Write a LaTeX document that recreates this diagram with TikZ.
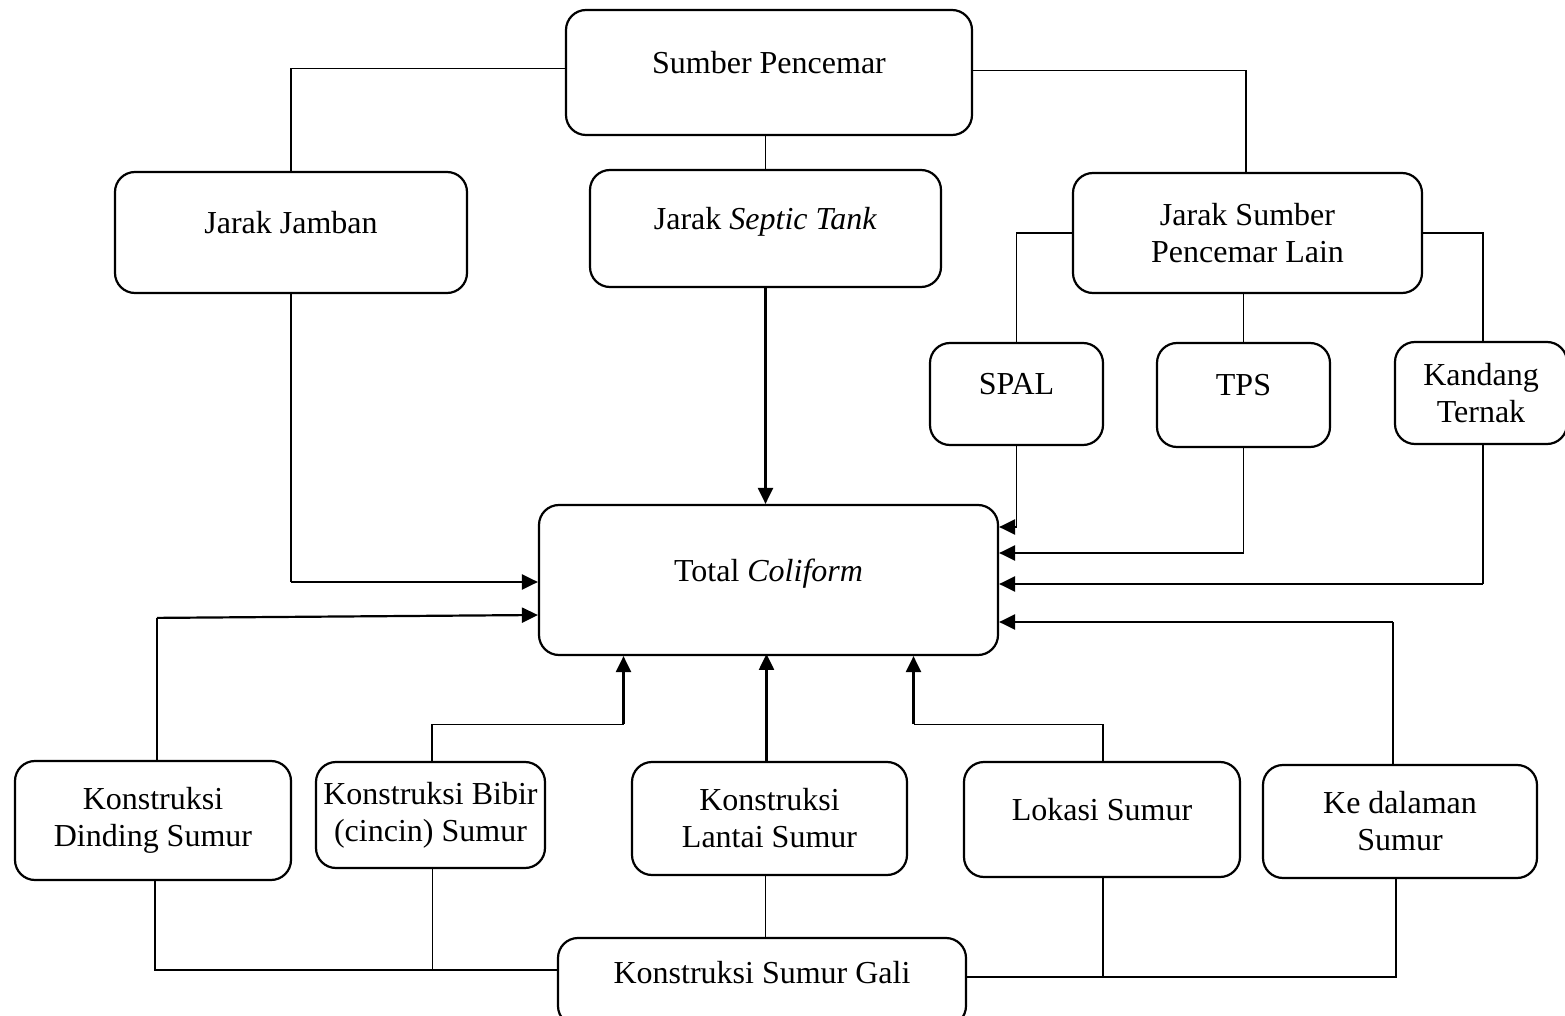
\documentclass[tikz,border=0pt]{standalone}
\usepackage{fontspec}
\setmainfont{Liberation Serif}
\usetikzlibrary{arrows.meta,calc}
\tikzset{
  box/.style={draw, rounded corners=10pt, line width=1.1pt, inner sep=0pt, align=center},
  single/.style={text height=11pt, text depth=10pt},
  link/.style={line width=0.6pt},
  feed/.style={line width=1.1pt, -{Triangle[length=8pt,width=7.5pt]}}
}

\begin{document}
\begin{tikzpicture}[x=0.5pt, y=-0.5pt, font=\fontsize{16}{18.5}\selectfont]
		\useasboundingbox (0,0) rectangle (1565,1016);
		% top level
		\node [box, single, minimum width=203pt, minimum height=62.5pt] (sp) at (769,72.5) {Sumber Pencemar};
		\node [box, single, minimum width=176pt, minimum height=60.5pt] (jj) at (291,232.5) {Jarak Jamban};
		\node [box, single, minimum width=175.5pt, minimum height=58.5pt] (jst) at (765.5,228.5) {Jarak \textit{Septic Tank}};
		\node [box, minimum width=174.5pt, minimum height=60pt] (jsl) at (1247.5,233) {Jarak Sumber\\Pencemar Lain};
		\node [box, single, minimum width=86.5pt, minimum height=51pt] (spal) at (1016.5,394) {SPAL};
		\node [box, single, minimum width=86.5pt, minimum height=52pt] (tps) at (1243.5,395) {TPS};
		\node [box, minimum width=86pt, minimum height=51pt] (kt) at (1481,393) {Kandang\\Ternak};
		% centre
		\node [box, single, minimum width=229.5pt, minimum height=75pt] (tc) at (768.5,580) {Total \textit{Coliform}};
		% bottom level
		\node [box, minimum width=138pt, minimum height=59.5pt] (kd) at (153,820.5) {Konstruksi\\Dinding Sumur};
		\node [box, minimum width=114.5pt, minimum height=53pt] (kb) at (430.5,815) {Konstruksi Bibir\\(cincin) Sumur};
		\node [box, minimum width=137.5pt, minimum height=56.5pt] (kl) at (769.5,818.5) {Konstruksi\\Lantai Sumur};
		\node [box, single, minimum width=138pt, minimum height=57.5pt] (ls) at (1102,819.5) {Lokasi Sumur};
		\node [box, minimum width=137pt, minimum height=56.5pt] (kdl) at (1400,821.5) {Ke dalaman\\Sumur};
		\node [box, single, minimum width=204pt, minimum height=44pt] (kg) at (762,982) {Konstruksi Sumur Gali};

		% links from the top
		\draw [link] ($(sp.west)+(0,-4)$) -| (jj.north);
		\draw [link] ($(sp.east)+(0,-2)$) -| ($(jsl.north)+(-1.5,0)$);
		\draw [link] (jst.north) -- (jst.north |- sp.south);
		\draw [link] (jsl.west) -| (spal.north);
		\draw [link] (tps.north) -- (tps.north |- jsl.south);
		\draw [link] (jsl.east) -| ($(kt.north)+(2,0)$);

		% corners of the arrows
		\coordinate (jjc) at ($(jj.south |- tc.west)+(0,2)$);
		\coordinate (spc) at ($(spal.south |- tc.east)+(0,-53)$);
		\coordinate (tpc) at ($(tps.south |- tc.east)+(0,-27)$);
		\coordinate (ktc) at ($(kt.south |- tc.east)+(2,4)$);
		\coordinate (kdlc) at ($(kdl.north |- tc.east)+(-7,42)$);
		\coordinate (kdc) at ($(kd.north)+(4,-142)$);
		\coordinate (kbc) at ($(tc.south)+(-145,68)$);
		\coordinate (lsc) at ($(tc.south)+(145,68)$);

		% arrows into Total Coliform
		\draw [link] (jj.south) -- (jjc);
		\draw [feed] (jjc) -- (jjc -| tc.west);
		\draw [feed] (jst.south) -- (jst.south |- tc.north);
		\draw [link] (spal.south) -- (spc);
		\draw [feed] (spc) -- (spc -| tc.east);
		\draw [link] (tps.south) -- (tpc);
		\draw [feed] (tpc) -- (tpc -| tc.east);
		\draw [link] ($(kt.south)+(2,0)$) -- (ktc);
		\draw [feed] (ktc) -- (ktc -| tc.east);
		\draw [link] ($(kdl.north)+(-7,0)$) -- (kdlc);
		\draw [feed] (kdlc) -- (kdlc -| tc.east);
		\draw [link] ($(kd.north)+(4,0)$) -- (kdc);
		\draw [feed] (kdc) -- ($(tc.west)+(0,35)$);
		\draw [link] ($(kb.north)+(1.5,0)$) |- (kbc);
		\draw [feed] (kbc) -- (kbc |- tc.south);
		\draw [feed] ($(kl.north)+(-3,0)$) -- ++(0,-107);
		\draw [link] ($(ls.north)+(1,0)$) |- (lsc);
		\draw [feed] (lsc) -- (lsc |- tc.south);

		% links into Konstruksi Sumur Gali
		\draw [link] ($(kd.south)+(2,0)$) |- ($(kg.west)+(0,-12)$);
		\draw [link] ($(kb.south)+(2,0)$) -- ++(0,102);
		\draw [link] ($(kl.south)+(-4,0)$) -- ++(0,63);
		\draw [link] ($(ls.south)+(1,0)$) -- ++(0,100);
		\draw [link] ($(kdl.south)+(-4,0)$) |- ($(kg.east)+(0,-5)$);
	\end{tikzpicture}
\end{document}
